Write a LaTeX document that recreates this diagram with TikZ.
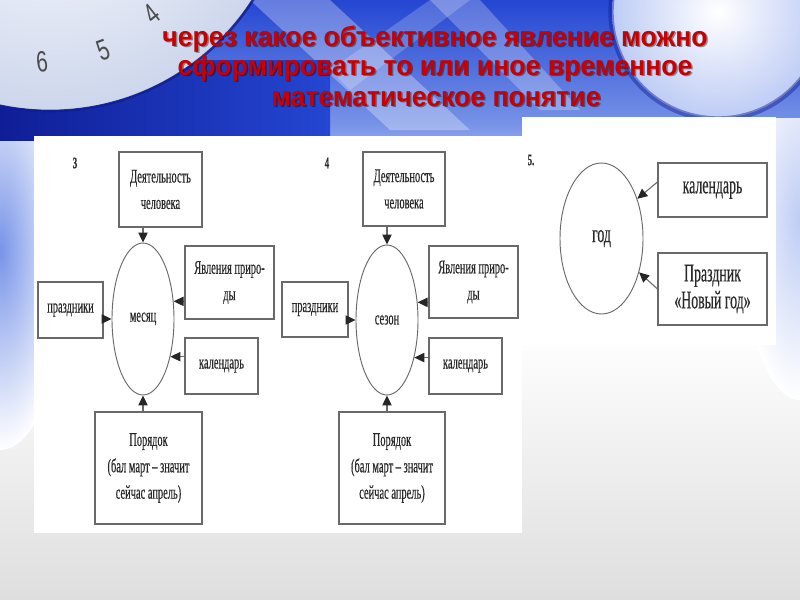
\documentclass[tikz,border=0pt]{standalone}
\usepackage{fontspec}
\setmainfont{Liberation Serif}
\newfontfamily\titlefont[FakeStretch=0.95]{Liberation Sans}
\newfontfamily\diafont[FakeStretch=0.54,FakeBold=0.4]{Liberation Serif}
\newfontfamily\digfont[FakeStretch=0.7]{Liberation Sans}
\usetikzlibrary{shapes.geometric,arrows.meta}
\definecolor{titlered}{RGB}{200,0,0}
\definecolor{lineg}{RGB}{105,105,105}
\definecolor{textg}{RGB}{40,40,40}
\definecolor{bluetop}{RGB}{36,70,210}
\definecolor{bluemid}{RGB}{120,148,232}
\definecolor{bluelight}{RGB}{190,204,245}
\definecolor{bgbottom}{RGB}{222,222,222}
\definecolor{plate}{RGB}{205,214,236}
\definecolor{navy}{RGB}{15,30,150}
\newcommand\mkbox[7][box]{\node[#1, minimum width={(#5-#3)*0.75pt}, minimum height={(#6-#4)*0.75pt}] (#2) at ({(#3+#5)/2},{(#4+#6)/2}) {#7};}
\begin{document}
\begin{tikzpicture}[x=0.75pt,y=-0.75pt,
  box/.style={draw=lineg, line width=0.8pt, fill=white, inner sep=0pt, align=center, text=textg, font=\diafont\fontsize{14.5}{19.8}\selectfont},
  bigbox/.style={box, font=\diafont\fontsize{19.2}{20.2}\selectfont},
  oval/.style={ellipse, draw=lineg, line width=0.7pt, inner sep=0pt, text=textg, font=\diafont\fontsize{14.5}{19.8}\selectfont},
  bigoval/.style={oval, font=\diafont\fontsize{19.2}{20.2}\selectfont},
  arr/.style={draw=lineg, line width=0.8pt, -{Triangle[length=7.5pt,width=7pt,color=black!85]}},
  numlbl/.style={font=\diafont\bfseries\fontsize{12}{12}\selectfont, text=textg, inner sep=0pt},
  ttl/.style={font=\titlefont\bfseries\fontsize{21}{24}\selectfont, text=titlered, anchor=base, inner sep=0pt},
  ttlsh/.style={ttl, text=black, opacity=0.4},
  digit/.style={font=\digfont\fontsize{22}{24}\selectfont, text=black!70, inner sep=0pt}
]
\useasboundingbox (0,0) rectangle (800,600);
% ---------- background ----------
\shade[top color=bluetop, bottom color=bluemid] (0,0) rectangle (800,126);
\shade[top color=bluemid, bottom color=white] (0,125) rectangle (800,230);
\fill[white] (0,229) rectangle (800,331);
\shade[top color=white, bottom color=bgbottom] (0,330) rectangle (800,600);
\fill[white, opacity=0.30] (250,0) -- (330,0) -- (470,130) -- (390,130) -- cycle;
\fill[white, opacity=0.25] (430,0) -- (480,0) -- (580,110) -- (540,110) -- cycle;
\fill[white, opacity=0.20] (330,70) -- (430,0) -- (470,0) -- (350,90) -- cycle;
% side glows
\begin{scope}
  \clip (0,128) rectangle (60,600);
  \shade[inner color=bluemid, outer color=white] (0,250) ellipse (70 and 200);
\end{scope}
\begin{scope}
  \clip (740,118) rectangle (800,600);
  \shade[inner color=bluelight, outer color=white] (800,220) ellipse (60 and 180);
\end{scope}
% lens top right
\shade[inner color=white, outer color=bluelight] (718,12) circle (106);
\draw[navy, opacity=0.45, line width=4pt] (718,12) circle (107);
% clock plate top left
\shade[left color=navy, right color=bluetop] (0,60) rectangle (330,140);
\shade[inner color=white, outer color=plate] (50,-130) circle (240);
\draw[navy, opacity=0.8, line width=2pt] (50,-130) circle (241);
\node[digit, rotate=6] (dg6) at (42,62) {6};
\node[digit, rotate=20] (dg5) at (103,50) {5};
\node[digit, rotate=38] (dg4) at (152,14) {4};
% panels
\fill[white] (34,136) rectangle (522,533);
\fill[white] (522,117) rectangle (776,345);
% ---------- title ----------
\node[ttlsh] (t1s) at (436.5,47.5) {через какое объективное явление можно};
\node[ttl]   (t1)  at (435,46)     {через какое объективное явление можно};
\node[ttlsh] (t2s) at (436.5,76.5) {сформировать то или иное временное};
\node[ttl]   (t2)  at (435,75)     {сформировать то или иное временное};
\node[ttlsh] (t3s) at (437.5,107.5){математическое понятие};
\node[ttl]   (t3)  at (436,106)    {математическое понятие};
% ---------- diagram 3 ----------
\node[numlbl] (n3) at (75,163) {3};
\mkbox{d3}{119}{152}{202}{227}{Деятельность\\человека}
\mkbox{y3}{185}{246}{274}{319}{Явления приро-\\ды}
\mkbox{p3}{38}{282}{103}{338}{праздники}
\mkbox{k3}{185}{338}{258}{394}{календарь}
\mkbox{o3}{95}{412}{202}{524}{Порядок\\(бал март – значит\\сейчас апрель)}
\node[oval, minimum width={62*0.75pt}, minimum height={152*0.75pt}] (m3) at (143,319) {месяц};
\draw[arr] (m3.north |- d3.south) -- (m3.north);
\draw[arr] (m3.south |- o3.north) -- (m3.south);
\draw[arr] (y3.west |- m3.30) -- (m3.30);
\draw[arr] (k3.west |- m3.-54) -- (m3.-54);
\draw[arr] (p3.east |- m3.west) -- (m3.west);
% ---------- diagram 4 ----------
\node[numlbl] (n4) at (327,163) {4};
\mkbox{d4}{363}{152}{445}{226}{Деятельность\\человека}
\mkbox{y4}{429}{246}{518}{318}{Явления приро-\\ды}
\mkbox{p4}{282}{282}{348}{337}{праздники}
\mkbox{k4}{429}{338}{502}{394}{календарь}
\mkbox{o4}{339}{412}{445}{524}{Порядок\\(бал март – значит\\сейчас апрель)}
\node[oval, minimum width={62*0.75pt}, minimum height={150*0.75pt}] (m4) at (387,320) {сезон};
\draw[arr] (m4.north |- d4.south) -- (m4.north);
\draw[arr] (m4.south |- o4.north) -- (m4.south);
\draw[arr] (y4.west |- m4.30) -- (m4.30);
\draw[arr] (k4.west |- m4.-54) -- (m4.-54);
\draw[arr] (p4.east |- m4.west) -- (m4.west);
% ---------- diagram 5 ----------
\node[numlbl] (n5l) at (531,160) {5.};
\node[bigoval, minimum width={83*0.75pt}, minimum height={151*0.75pt}] (m5) at (601.5,238.5) {год};
\mkbox[bigbox]{k5}{658}{163}{767}{217}{календарь}
\mkbox[bigbox]{n5}{658}{253}{767}{325}{Праздник\\«Новый год»}
\draw[arr] ([yshift=6pt]k5.west) -- (m5.48);
\draw[arr] (n5.west) -- (m5.-42);
\end{tikzpicture}
\end{document}
